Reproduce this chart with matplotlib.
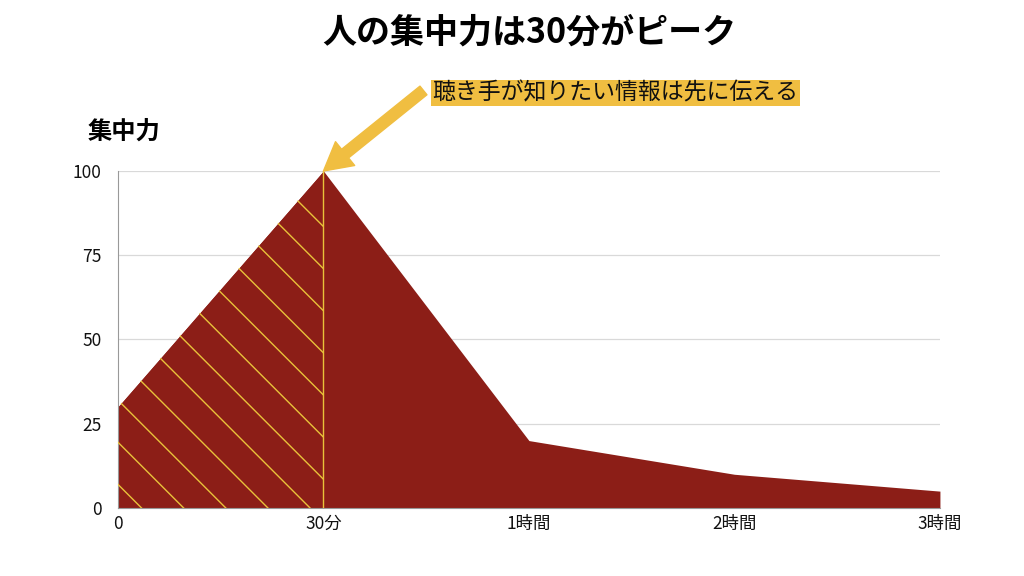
import numpy as np
import matplotlib.pyplot as plt

plt.rcParams['font.family'] = ['Noto Sans CJK JP', 'DejaVu Sans']

# data
labels = ['0', '30分', '1時間', '2時間', '3時間']
values = [30, 100, 20, 10, 5]
yticks = [0, 25, 50, 75, 100]
title = '人の集中力は30分がピーク'
ylabel = '集中力'
note = '聴き手が知りたい情報は先に伝える'

red = '#8c1e17'
yellow = '#f0be41'
hatch_col = '#e9c23a'

x = np.arange(len(values))

fig = plt.figure(figsize=(10.24, 5.76), dpi=100)
ax = fig.add_axes([0.1152, 0.1181, 0.8027, 0.585])

ax.fill_between(x, values, 0, color=red, lw=0, zorder=2)

# hatched part: 0 -> 30分
hat = ax.fill_between(x[:2], values[:2], 0, color=red, lw=0, zorder=2)
clip = hat.get_paths()[0]
aspect = 822 / 337  # slope so lines sit at 45 deg on screen
for c in np.arange(1.445, -0.2, -0.125):
    xs = np.array([0, 1.0])
    ln, = ax.plot(xs, c - xs * aspect, transform=ax.transAxes,
                  color=hatch_col, lw=1, zorder=3)
    ln.set_clip_path(clip, ax.transData)
ax.plot([1, 1], [0, values[1]], color=hatch_col, lw=1, zorder=3)

ax.set_xlim(0, len(values) - 1)
ax.set_ylim(0, 100)
ax.set_xticks(x)
ax.set_xticklabels(labels)
ax.set_yticks(yticks)
ax.tick_params(length=0, labelsize=12.5, colors='#111111')
ax.tick_params(axis='y', pad=12)
ax.tick_params(axis='x', pad=5)
ax.grid(axis='y', color='#d9d9d9', lw=0.9, zorder=0)
for s in ['top', 'right']:
    ax.spines[s].set_visible(False)
ax.spines['left'].set_color('#999999')
ax.spines['bottom'].set_color('#999999')

fig.text(0.5166, 0.945, title, ha='center', va='center',
         fontsize=24.5, fontweight='bold')
fig.text(0.086, 0.771, ylabel, ha='left', va='center',
         fontsize=17.5, fontweight='bold')

ax.annotate('', xy=(1, 100), xytext=(72, 58), textcoords='offset points',
            arrowprops=dict(arrowstyle='simple,head_length=1.0,head_width=1.1,tail_width=0.4',
                            mutation_scale=20, color=yellow, shrinkA=0, shrinkB=0),
            annotation_clip=False, zorder=5)
fig.text(0.4225, 0.8385, note, ha='left', va='center', fontsize=16.5,
         color='#111111',
         bbox=dict(boxstyle='square,pad=0.08', facecolor=yellow, edgecolor='none'))

fig.savefig('out.png', dpi=100)
